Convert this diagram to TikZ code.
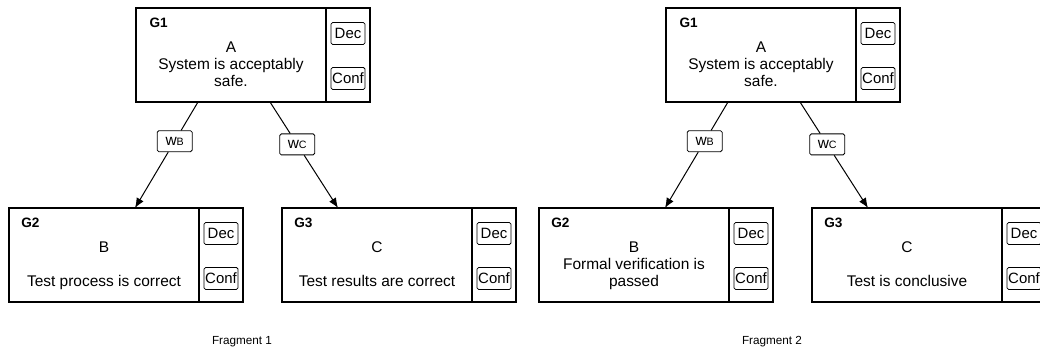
\documentclass[tikz,border=0pt]{standalone}
\usepackage{fontspec}
\setmainfont{Liberation Sans}
\usetikzlibrary{arrows.meta,positioning,calc}

\tikzset{
  goal/.style={draw, line width=1pt, minimum width=142.5pt, minimum height=70.5pt, inner sep=0pt, outer sep=0pt},
  side/.style={draw, line width=1pt, minimum width=33pt, minimum height=70.5pt, inner sep=0pt, outer sep=0pt},
  tag/.style={draw, line width=0.6pt, rounded corners=1.2pt, minimum width=25.5pt, minimum height=16.5pt, inner sep=0pt, font=\fontsize{11.2}{12}\selectfont},
  gid/.style={anchor=base west, inner sep=0pt, font=\fontsize{10.2}{12}\selectfont\bfseries},
  letter/.style={anchor=base, inner sep=0pt, font=\fontsize{11.6}{12.8}\selectfont},
  claim/.style={anchor=south, inner sep=0pt, align=center, font=\fontsize{11.6}{12.8}\selectfont},
  weight/.style={draw, fill=white, line width=0.6pt, rounded corners=1.2pt, minimum width=26.25pt, minimum height=15.75pt, inner sep=0pt, font=\fontsize{11.6}{12.8}\selectfont},
  link/.style={line width=0.75pt, -{Latex[length=7.5pt,width=6pt]}},
  caption/.style={inner sep=0pt, font=\fontsize{8.8}{10}\selectfont}
}

\begin{document}
\begin{tikzpicture}[x=0.75pt,y=-0.75pt]
\useasboundingbox (0,0) rectangle (1040,356);
\clip (0,0) rectangle (1040,356);

% Fragment 1
\node[goal] (g1a) at (231,55) {};
\node[side, right=0pt of g1a] (g1s) {};
\node[tag] (g1dec) at ([yshift=16.1pt]g1s.center) {Dec};
\node[tag] (g1conf) at ([yshift=-17.6pt]g1s.center) {Conf};
\node[gid] (g1id) at ([xshift=10pt,yshift=-14.6pt]g1a.north west) {G1};
\node[letter] (g1l) at ([yshift=-33.6pt]g1a.north) {A};
\node[claim] (g1t) at ([yshift=7.4pt]g1a.south) {System is acceptably\\safe.\strut};

\node[goal] (g2a) at (104,255) {};
\node[side, right=0pt of g2a] (g2s) {};
\node[tag] (g2dec) at ([yshift=16.1pt]g2s.center) {Dec};
\node[tag] (g2conf) at ([yshift=-17.6pt]g2s.center) {Conf};
\node[gid] (g2id) at ([xshift=9pt,yshift=-14.6pt]g2a.north west) {G2};
\node[letter] (g2l) at ([yshift=-33.6pt]g2a.north) {B};
\node[claim] (g2t) at ([yshift=7.4pt]g2a.south) {Test process is correct\strut};

\node[goal] (g3a) at (377,255) {};
\node[side, right=0pt of g3a] (g3s) {};
\node[tag] (g3dec) at ([yshift=16.1pt]g3s.center) {Dec};
\node[tag] (g3conf) at ([yshift=-17.6pt]g3s.center) {Conf};
\node[gid] (g3id) at ([xshift=9pt,yshift=-14.6pt]g3a.north west) {G3};
\node[letter] (g3l) at ([yshift=-33.6pt]g3a.north) {C};
\node[claim] (g3t) at ([yshift=7.4pt]g3a.south) {Test results are correct\strut};

\coordinate (p1b) at ([xshift=-24.75pt]g1a.south);
\coordinate (q1b) at ([xshift=23.25pt]g2a.north);
\coordinate (p1c) at ([xshift=29.25pt]g1a.south);
\coordinate (q1c) at ([xshift=-29.25pt]g3a.north);
\node[weight] (w1b) at ($(p1b)!0.37!(q1b)$) {w{\fontsize{8}{10}\selectfont B}};
\node[weight] (w1c) at ($(p1c)!0.40!(q1c)$) {w{\fontsize{8}{10}\selectfont C}};
\draw[link] (p1b) -- (w1b) -- (q1b);
\draw[link] (p1c) -- (w1c) -- (q1c);

\node[caption] (f1) at (242,342) {Fragment 1};

% Fragment 2
\node[goal] (h1a) at (761,55) {};
\node[side, right=0pt of h1a] (h1s) {};
\node[tag] (h1dec) at ([yshift=16.1pt]h1s.center) {Dec};
\node[tag] (h1conf) at ([yshift=-17.6pt]h1s.center) {Conf};
\node[gid] (h1id) at ([xshift=10pt,yshift=-14.6pt]h1a.north west) {G1};
\node[letter] (h1l) at ([yshift=-33.6pt]h1a.north) {A};
\node[claim] (h1t) at ([yshift=7.4pt]h1a.south) {System is acceptably\\safe.\strut};

\node[goal] (h2a) at (634,255) {};
\node[side, right=0pt of h2a] (h2s) {};
\node[tag] (h2dec) at ([yshift=16.1pt]h2s.center) {Dec};
\node[tag] (h2conf) at ([yshift=-17.6pt]h2s.center) {Conf};
\node[gid] (h2id) at ([xshift=9pt,yshift=-14.6pt]h2a.north west) {G2};
\node[letter] (h2l) at ([yshift=-33.6pt]h2a.north) {B};
\node[claim] (h2t) at ([yshift=7.4pt]h2a.south) {Formal verification is\\passed\strut};

\node[goal] (h3a) at (907,255) {};
\node[side, right=0pt of h3a] (h3s) {};
\node[tag] (h3dec) at ([yshift=16.1pt]h3s.center) {Dec};
\node[tag] (h3conf) at ([yshift=-17.6pt]h3s.center) {Conf};
\node[gid] (h3id) at ([xshift=9pt,yshift=-14.6pt]h3a.north west) {G3};
\node[letter] (h3l) at ([yshift=-33.6pt]h3a.north) {C};
\node[claim] (h3t) at ([yshift=7.4pt]h3a.south) {Test is conclusive\strut};

\coordinate (p2b) at ([xshift=-24.75pt]h1a.south);
\coordinate (q2b) at ([xshift=23.25pt]h2a.north);
\coordinate (p2c) at ([xshift=29.25pt]h1a.south);
\coordinate (q2c) at ([xshift=-29.25pt]h3a.north);
\node[weight] (w2b) at ($(p2b)!0.37!(q2b)$) {w{\fontsize{8}{10}\selectfont B}};
\node[weight] (w2c) at ($(p2c)!0.40!(q2c)$) {w{\fontsize{8}{10}\selectfont C}};
\draw[link] (p2b) -- (w2b) -- (q2b);
\draw[link] (p2c) -- (w2c) -- (q2c);

\node[caption] (f2) at (772,342) {Fragment 2};
\end{tikzpicture}
\end{document}
